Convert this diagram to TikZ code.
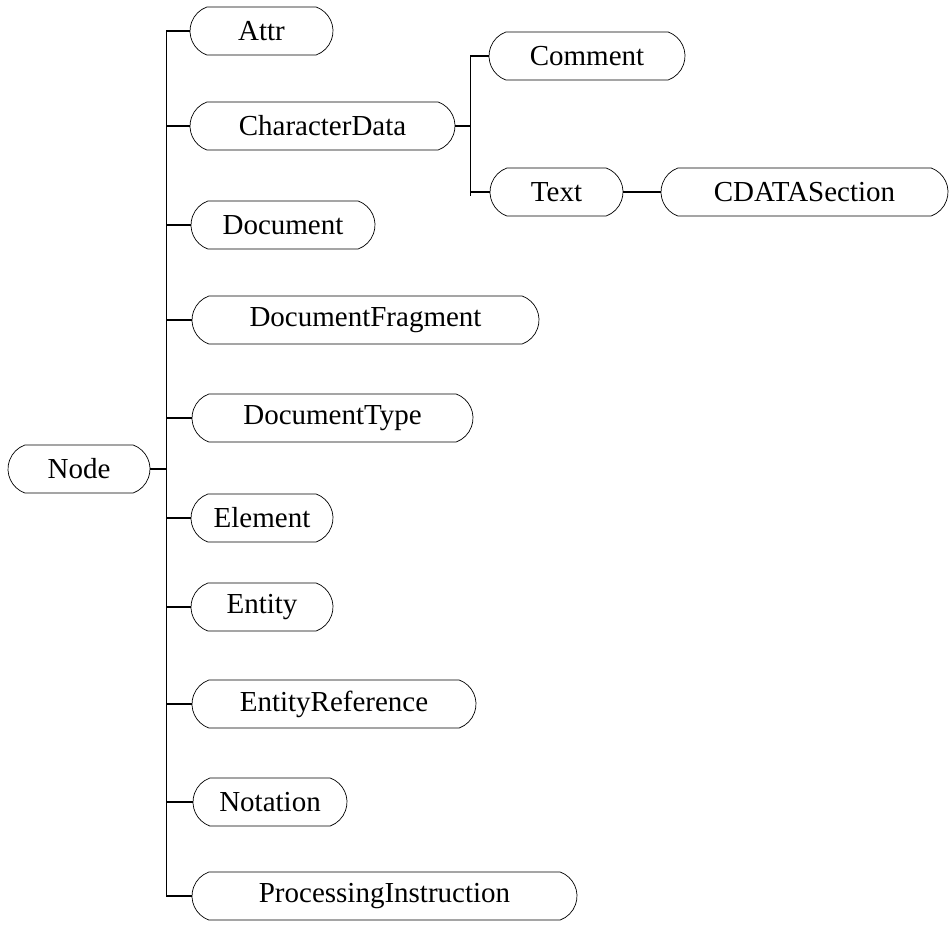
\documentclass[tikz,border=0pt]{standalone}
\usepackage{fontspec}
\setmainfont{Liberation Serif}
\usetikzlibrary{shapes.misc}

\begin{document}
\begin{tikzpicture}[
  x = 1pt, y = -1pt,
  every node/.style = {draw, line width = 0.7pt, rounded rectangle,
    rounded rectangle arc length = 140, minimum height = 48pt,
    inner sep = 0pt, font = \fontsize{29}{34}\selectfont},
  link/.style = {line width = 1.5pt}
]
\useasboundingbox (0,0) rectangle (949,925);

% root and its children
\node[minimum width = 142pt](node) at (79,469){Node};
\node[minimum width = 143pt](attr) at (261.5,31){Attr};
\node[minimum width = 265pt](chardata) at (322.5,126){CharacterData};
\node[minimum width = 184pt](doc) at (283,225){Document};
\node[minimum width = 347pt](docfrag) at (365.5,320){DocumentFragment};
\node[minimum width = 281pt](doctype) at (332.5,418){DocumentType};
\node[minimum width = 142pt](elem) at (262,518){Element};
\node[minimum width = 142pt](entity) at (262,607){Entity};
\node[minimum width = 284pt](entref) at (334,704){EntityReference};
\node[minimum width = 154pt](notation) at (270,802){Notation};
\node[minimum width = 385pt](procinst) at (384.5,896){ProcessingInstruction};

% CharacterData subtree
\node[minimum width = 196pt](comment) at (587,56){Comment};
\node[minimum width = 133pt](text) at (556.5,192){Text};
\node[minimum width = 287pt](cdata) at (804.5,192){CDATASection};

% Connectors
\draw[link] (node.east) -- ++(16,0) coordinate (trunk);
\draw[link] (attr.west -| trunk) -- (procinst.west -| trunk);
\foreach \child in {attr, chardata, doc, docfrag, doctype, elem,
  entity, entref, notation, procinst}
  \draw[link] (\child.west -| trunk) -- (\child.west);

\draw[link] (chardata.east) -- ++(15,0) coordinate (subtrunk);
\draw[link] (comment.west -| subtrunk) -- ([yshift=-4pt]text.west -| subtrunk);
\draw[link] (comment.west -| subtrunk) -- (comment.west);
\draw[link] (text.west -| subtrunk) -- (text.west);
\draw[link] (text.east) -- (cdata.west);
\end{tikzpicture}
\end{document}
